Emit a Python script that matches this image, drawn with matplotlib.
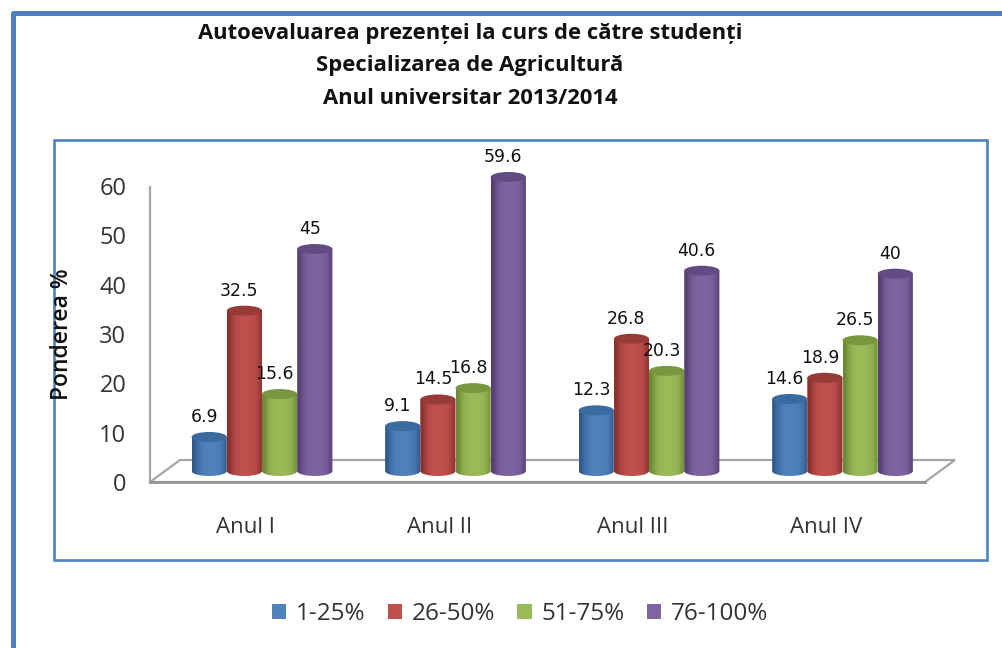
import numpy as np
import matplotlib
matplotlib.use("Agg")
import matplotlib.pyplot as plt
from matplotlib.patches import Patch, Polygon, Rectangle, Ellipse, PathPatch
from matplotlib.path import Path
from matplotlib.lines import Line2D
from matplotlib.colors import LinearSegmentedColormap

title_lines = ["Autoevaluarea prezenței la curs de către studenți",
               "Specializarea de Agricultură",
               "Anul universitar 2013/2014"]
categories = ["Anul I", "Anul II", "Anul III", "Anul IV"]
series_names = ["1-25%", "26-50%", "51-75%", "76-100%"]
v1 = [6.9, 9.1, 12.3, 14.6]
v2 = [32.5, 14.5, 26.8, 18.9]
v3 = [15.6, 16.8, 20.3, 26.5]
v4 = [45, 59.6, 40.6, 40]
labels1 = ["6.9", "9.1", "12.3", "14.6"]
labels2 = ["32.5", "14.5", "26.8", "18.9"]
labels3 = ["15.6", "16.8", "20.3", "26.5"]
labels4 = ["45", "59.6", "40.6", "40"]
yticks = [0, 10, 20, 30, 40, 50, 60]
ylabel = "Ponderea %"

W, H = 1002, 648
BLUE = "#4f81bd"
fam = "Open Sans"
base = [("#4f81bd", "#2f5a8c", "#3a6a9f"),
        ("#c0504d", "#8a302d", "#973b38"),
        ("#9bbb59", "#6b8a36", "#7a9740"),
        ("#8064a2", "#563f72", "#624b82")]

fig = plt.figure(figsize=(W / 100, H / 100), dpi=100, facecolor="white")

# axes box in pixels (room above 60 for the tallest cylinder and its label)
L, R, B = 150, 925, 482
px_y = (482 - 186) / 60
YMAX = 70
T = B - YMAX * px_y
ax = fig.add_axes([L / W, 1 - B / H, (R - L) / W, (B - T) / H])
px_x = 193.5                      # pixels per category
x0_px = 262                       # centre of first group
ax.set_xlim((L - x0_px) / px_x, (R - x0_px) / px_x)
ax.set_ylim(0, YMAX)
ax.patch.set_visible(False)
for s in ax.spines.values():
    s.set_visible(False)

# frames
fig.add_artist(Rectangle((53.5 / W, 1 - 560 / H), (987 - 53.5) / W, (560 - 140) / H,
                         transform=fig.transFigure, fill=False, ec=BLUE, lw=1.9))
fig.add_artist(Line2D([12.5 / W, 12.5 / W, 1], [0, 1 - 12.5 / H, 1 - 12.5 / H],
                      transform=fig.transFigure, color=BLUE, lw=3.6,
                      solid_joinstyle="round"))

# floor and wall edge
dx, dy = 30 / px_x, 22 / px_y
xa, xb = ax.get_xlim()
ax.add_patch(Polygon([(xa, 0), (xb, 0), (xb + dx, dy), (xa + dx, dy)], closed=True,
                     fc="white", ec="#a6a6a6", lw=1.6, clip_on=False, zorder=1))
ax.plot([xa, xa], [0, 60], color="#a6a6a6", lw=1.6, clip_on=False, zorder=1,
        solid_capstyle="butt")
ax.plot([xa, xb], [0, 0], color="#969696", lw=2.0, clip_on=False, zorder=1.1)

# cylinders
width = 35.2 / px_x
ell_h = 10 / px_y
floor = 11 / px_y
series = [v1, v2, v3, v4]
text_labels = [labels1, labels2, labels3, labels4]
grad = np.array([[0.0, 0.55, 0.85, 0.97, 1.0, 0.98, 0.9, 0.72, 0.2]])
for k, (vals, labs, (c, dark, top)) in enumerate(zip(series, text_labels, base)):
    cmap = LinearSegmentedColormap.from_list("c", [dark, c])
    for i, (v, lab) in enumerate(zip(vals, labs)):
        x1 = i + (k - 2) * width
        x2 = x1 + width
        xc = (x1 + x2) / 2
        y_top = floor + v
        z = 2 + i * 4 + k
        t = np.linspace(np.pi, 2 * np.pi, 30)
        bx = xc + width / 2 * np.cos(t)
        by = floor + ell_h / 2 * np.sin(t)
        verts = np.vstack([[x1, y_top], np.column_stack([bx, by]), [x2, y_top], [x1, y_top]])
        clip = PathPatch(Path(verts), transform=ax.transData, fc="none", ec="none")
        ax.add_patch(clip)
        im = ax.imshow(grad, cmap=cmap, vmin=0, vmax=1, aspect="auto", interpolation="bilinear",
                       extent=(x1, x2, floor - ell_h, y_top), zorder=z)
        im.set_clip_path(clip)
        ax.add_patch(Ellipse((xc, y_top), width, ell_h, fc=top, ec="none", zorder=z + 0.5))
        ax.annotate(lab, (xc, y_top), xytext=(-3.6, 14.5), textcoords="offset points",
                    ha="center", va="center", fontsize=12.4, family="DejaVu Sans",
                    color="#111111", zorder=50, annotation_clip=False)
ax.set_xlim(xa, xb)
ax.set_ylim(0, YMAX)

# ticks
ax.set_yticks(yticks)
ax.tick_params(axis="y", length=0, pad=17, labelsize=17, labelcolor="#333333")
ax.set_xticks([i - 16 / px_x for i in range(len(categories))])
ax.set_xticklabels(categories)
ax.tick_params(axis="x", length=0, pad=25, labelsize=16, labelcolor="#333333")
for t in ax.get_xticklabels() + ax.get_yticklabels():
    t.set_family(fam)

fig.text(62 / W, 1 - 334 / H, ylabel, rotation=90, ha="center", va="center",
         fontsize=16.5, family=fam, fontweight="semibold", color="#111111")

for s, y in zip(title_lines, [33, 65, 98]):
    fig.text(470 / W, 1 - y / H, s, ha="center", va="center", fontsize=15.8,
             family=fam, fontweight="bold", color="#111111")

handles = [Patch(fc=b[0], ec="none") for b in base]
fig.legend(handles, series_names, loc="center", bbox_to_anchor=(520 / W, 1 - 614 / H),
           ncol=4, frameon=False, prop={"family": fam, "size": 17.5},
           handlelength=0.6, handleheight=0.6, handletextpad=0.4, columnspacing=0.9,
           labelcolor="#333333")

fig.savefig("out.png", dpi=100, facecolor="white")
